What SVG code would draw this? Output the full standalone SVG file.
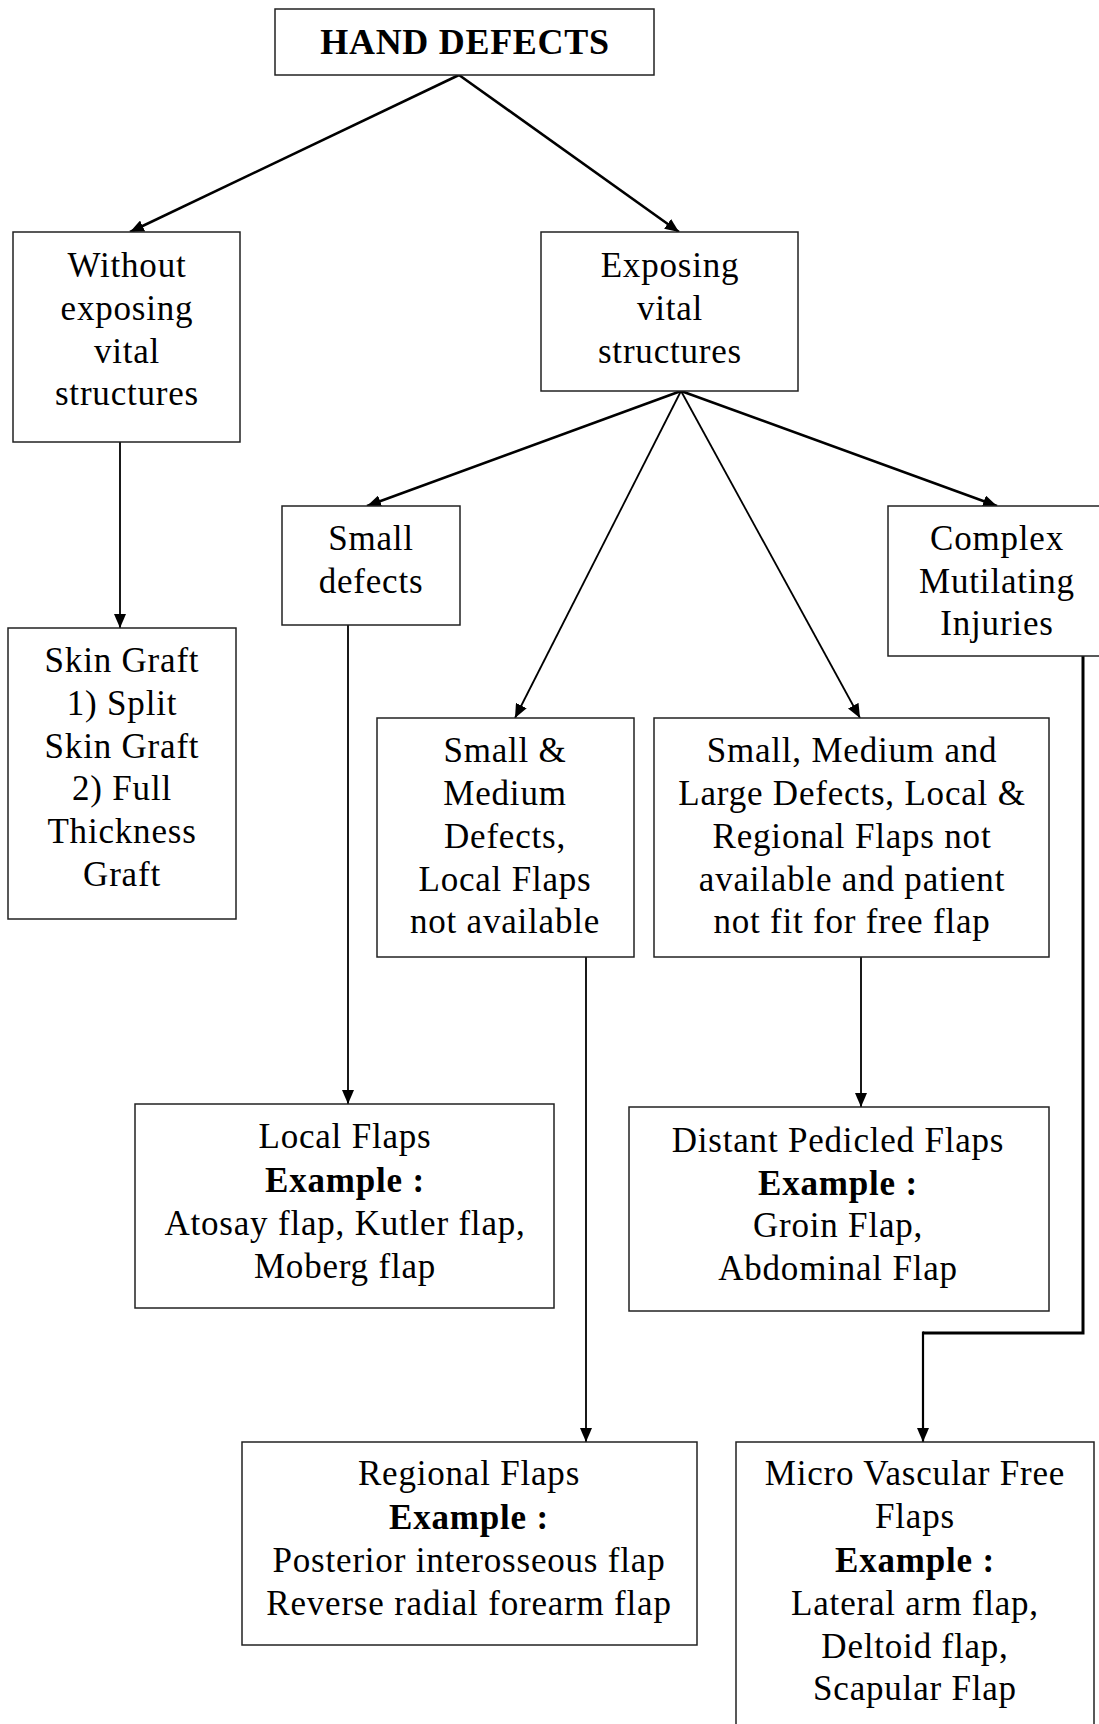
<svg xmlns="http://www.w3.org/2000/svg" width="1099" height="1724" viewBox="0 0 1099 1724">
<style>
rect.box{fill:#fff;stroke:#222;stroke-width:1.5}
text{font-family:"Liberation Serif","Times New Roman",serif;font-size:35px;fill:#000;text-anchor:middle;letter-spacing:0.8px}
.b{font-weight:bold}
.c{fill:none;stroke:#000;stroke-width:1.8}
.t{stroke-width:2.6}
</style>
<defs>
<marker id="ah" markerUnits="userSpaceOnUse" markerWidth="14" markerHeight="12" refX="14" refY="6" orient="auto">
<path d="M0,0 L14,6 L0,12 z" fill="#000"/>
</marker>
</defs>
<rect width="1099" height="1724" fill="#fff"/>
<g id="connectors">
<path class="c t" d="M459,75 L130,232" marker-end="url(#ah)"/>
<path class="c t" d="M459,75 L679,232" marker-end="url(#ah)"/>
<path class="c" d="M120,442 L120,628" marker-end="url(#ah)"/>
<path class="c t" d="M681,391 L367,506" marker-end="url(#ah)"/>
<path class="c" d="M681,391 L515,718" marker-end="url(#ah)"/>
<path class="c" d="M681,391 L860,718" marker-end="url(#ah)"/>
<path class="c t" d="M681,391 L997,506" marker-end="url(#ah)"/>
<path class="c" d="M348,625 L348,1104" marker-end="url(#ah)"/>
<path class="c" d="M586,957 L586,1442" marker-end="url(#ah)"/>
<path class="c" d="M861,957 L861,1107" marker-end="url(#ah)"/>
<path class="c" style="stroke-width:3" d="M1083,656 L1083,1333 L923,1333"/>
<path class="c" style="stroke-width:2.2" d="M923,1331.5 L923,1442" marker-end="url(#ah)"/>
</g>
<g id="n-hand">
<rect class="box" x="275" y="9" width="379" height="66"/>
<text x="465" y="54" class="b" style="font-size:36px;letter-spacing:0.7px">HAND DEFECTS</text>
</g>
<g id="n-without">
<rect class="box" x="13" y="232" width="227" height="210"/>
<text x="127" y="277">Without</text>
<text x="127" y="320">exposing</text>
<text x="127" y="363">vital</text>
<text x="127" y="405">structures</text>
</g>
<g id="n-exposing">
<rect class="box" x="541" y="232" width="257" height="159"/>
<text x="670" y="277">Exposing</text>
<text x="670" y="320">vital</text>
<text x="670" y="363">structures</text>
</g>
<g id="n-skin">
<rect class="box" x="8" y="628" width="228" height="291"/>
<text x="122" y="672">Skin Graft</text>
<text x="122" y="715">1) Split</text>
<text x="122" y="758">Skin Graft</text>
<text x="122" y="800">2) Full</text>
<text x="122" y="843">Thickness</text>
<text x="122" y="886">Graft</text>
</g>
<g id="n-small">
<rect class="box" x="282" y="506" width="178" height="119"/>
<text x="371" y="550">Small</text>
<text x="371" y="593">defects</text>
</g>
<g id="n-complex">
<rect class="box" x="888" y="506" width="220" height="150"/>
<text x="997" y="550">Complex</text>
<text x="997" y="593">Mutilating</text>
<text x="997" y="635">Injuries</text>
</g>
<g id="n-smallmed">
<rect class="box" x="377" y="718" width="257" height="239"/>
<text x="505" y="762">Small &amp;</text>
<text x="505" y="805">Medium</text>
<text x="505" y="848">Defects,</text>
<text x="505" y="891">Local Flaps</text>
<text x="505" y="933">not available</text>
</g>
<g id="n-sml">
<rect class="box" x="654" y="718" width="395" height="239"/>
<text x="852" y="762">Small, Medium and</text>
<text x="852" y="805">Large Defects, Local &amp;</text>
<text x="852" y="848">Regional Flaps not</text>
<text x="852" y="891">available and patient</text>
<text x="852" y="933">not fit for free flap</text>
</g>
<g id="n-local">
<rect class="box" x="135" y="1104" width="419" height="204"/>
<text x="345" y="1148">Local Flaps</text>
<text x="345" y="1192" class="b">Example :</text>
<text x="345" y="1235">Atosay flap, Kutler flap,</text>
<text x="345" y="1278">Moberg flap</text>
</g>
<g id="n-distant">
<rect class="box" x="629" y="1107" width="420" height="204"/>
<text x="838" y="1152">Distant Pedicled Flaps</text>
<text x="838" y="1195" class="b">Example :</text>
<text x="838" y="1237">Groin Flap,</text>
<text x="838" y="1280">Abdominal Flap</text>
</g>
<g id="n-regional">
<rect class="box" x="242" y="1442" width="455" height="203"/>
<text x="469" y="1485">Regional Flaps</text>
<text x="469" y="1529" class="b">Example :</text>
<text x="469" y="1572">Posterior interosseous  flap</text>
<text x="469" y="1615">Reverse radial forearm flap</text>
</g>
<g id="n-micro">
<rect class="box" x="736" y="1442" width="358" height="300"/>
<text x="915" y="1485">Micro Vascular Free</text>
<text x="915" y="1528">Flaps</text>
<text x="915" y="1572" class="b">Example :</text>
<text x="915" y="1615">Lateral arm flap,</text>
<text x="915" y="1658">Deltoid flap,</text>
<text x="915" y="1700">Scapular Flap</text>
</g>
</svg>
